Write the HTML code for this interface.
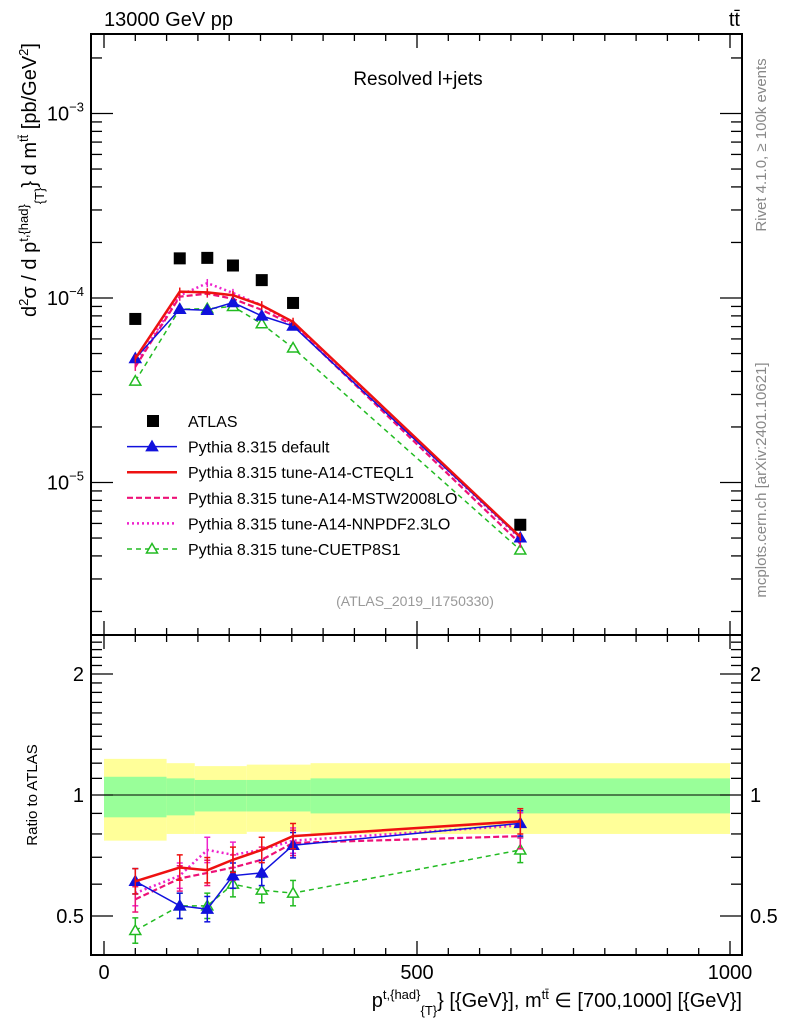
<!DOCTYPE html>
<html><head><meta charset="utf-8"><style>
body{margin:0;background:#fff;}
svg{display:block;font-family:"Liberation Sans",sans-serif;}
</style></head><body>
<svg id="c" width="786" height="1024" xmlns="http://www.w3.org/2000/svg">
<g id="bands"></g>
<g id="axes"></g>
<g id="series"></g>
<text x="104" y="26" font-size="20">13000 GeV pp</text>
<text x="740" y="26" font-size="20" text-anchor="end">tt̄</text>
<text x="418" y="85" font-size="19" text-anchor="middle">Resolved l+jets</text>
<text x="415" y="606" font-size="14" fill="#999" text-anchor="middle">(ATLAS_2019_I1750330)</text>
<text transform="translate(766,145) rotate(-90)" font-size="15" fill="#888" text-anchor="middle">Rivet 4.1.0, ≥ 100k events</text>
<text transform="translate(766,480) rotate(-90)" font-size="15" fill="#888" text-anchor="middle">mcplots.cern.ch [arXiv:2401.10621]</text>
<text transform="translate(36,180) rotate(-90)" font-size="20" text-anchor="middle">d<tspan font-size="13" dy="-8">2</tspan><tspan dy="8">σ / d p</tspan><tspan font-size="13" dy="-8">t,{had}</tspan><tspan font-size="13" dy="16">{T}</tspan><tspan dy="-8">} d m</tspan><tspan font-size="13" dy="-8">tt̄</tspan><tspan dy="8"> [pb/GeV</tspan><tspan font-size="13" dy="-8">2</tspan><tspan dy="8">]</tspan></text>
<text transform="translate(37,795) rotate(-90)" font-size="15" text-anchor="middle">Ratio to ATLAS</text>
<text x="742" y="1007" font-size="20" text-anchor="end">p<tspan font-size="13" dy="-8">t,{had}</tspan><tspan font-size="13" dy="16">{T}</tspan><tspan dy="-8">} [{GeV}], m</tspan><tspan font-size="13" dy="-8">tt̄</tspan><tspan dy="8"> ∈ [700,1000] [{GeV}]</tspan></text>
<g id="legend"></g>
</svg>
<script>
const xs=[50,121,165,206,252,302,665];
const atlas=[7.7e-5,1.64e-4,1.65e-4,1.5e-4,1.25e-4,9.4e-5,5.9e-6];
const rDefault=[0.61,0.53,0.52,0.63,0.64,0.75,0.85];
const rA14CTEQ=[0.61,0.66,0.65,0.69,0.73,0.79,0.86];
const rA14MSTW=[0.55,0.62,0.64,0.66,0.69,0.76,0.79];
const rA14NNPDF=[0.57,0.63,0.73,0.71,0.73,0.77,0.84];
const rCUETP8S1=[0.46,0.53,0.53,0.60,0.58,0.57,0.73];
const binEdges=[0,100,145,228,330,1000];
const yelUp=[1.23,1.20,1.18,1.19,1.20];
const yelDn=[0.77,0.80,0.80,0.81,0.80];
const grnUp=[1.11,1.10,1.09,1.09,1.10];
const grnDn=[0.88,0.89,0.91,0.91,0.90];
const xTicks=[0,500,1000];
const yTickExp=[-5,-4,-3];
const rTicks=[0.5,1,2];

const NS="http://www.w3.org/2000/svg";
const X0=91,X1=742,Y0=34,YM=635,Y1=955;
const fx=v=>104+(v)*0.626;
const fy=v=>298-(Math.log10(v)+4)*184.5;
const fr=v=>795-Math.log2(v)*121;
function mk(tag,attrs,parent){const e=document.createElementNS(NS,tag);for(const k in attrs)e.setAttribute(k,attrs[k]);parent.appendChild(e);return e;}
const axes=document.getElementById('axes'),bands=document.getElementById('bands'),ser=document.getElementById('series'),leg=document.getElementById('legend');

for(let i=0;i<binEdges.length-1;i++){
 const a=fx(binEdges[i]),b=fx(binEdges[i+1]);
 let r=mk('rect',{x:a,y:fr(yelUp[i]),width:b-a,height:fr(yelDn[i])-fr(yelUp[i]),fill:'#ffff99'},bands);
 
 
 r=mk('rect',{x:a,y:fr(grnUp[i]),width:b-a,height:fr(grnDn[i])-fr(grnUp[i]),fill:'#99ff99'},bands);
 
 
}
mk('line',{x1:fx(0),x2:fx(1000),y1:fr(1),y2:fr(1),stroke:'#000','stroke-width':1},bands);

let f=mk('rect',{x:X0,y:Y0,width:X1-X0,height:YM-Y0,fill:'none',stroke:'#000','stroke-width':2},axes);


f=mk('rect',{x:X0,y:YM,width:X1-X0,height:Y1-YM,fill:'none',stroke:'#000','stroke-width':2},axes);


for(let v=0;v<=1000;v+=50){
 const x=fx(v),L=(v%500==0)?14:7;
 for(const [yb,d] of [[Y0,1],[YM,-1],[YM,1],[Y1,-1]]) mk('line',{x1:x,x2:x,y1:yb,y2:yb+d*L,stroke:'#000','stroke-width':1.3},axes);
}
xTicks.forEach(v=>{const t=mk('text',{x:fx(v),y:979,'font-size':20,'text-anchor':'middle'},axes);t.textContent=v;
 
 });
for(let e=-6;e<=-2;e++){for(let m=1;m<10;m++){const v=m*Math.pow(10,e);const y=fy(v);if(y<Y0||y>YM)continue;const L=m==1?22:11;
 mk('line',{x1:X0,x2:X0+L,y1:y,y2:y,stroke:'#000','stroke-width':1.3},axes);mk('line',{x1:X1,x2:X1-L,y1:y,y2:y,stroke:'#000','stroke-width':1.3},axes);}}
yTickExp.forEach(e=>{const t=mk('text',{x:84,y:fy(Math.pow(10,e))+7,'font-size':20,'text-anchor':'end'},axes);
 t.innerHTML='10<tspan font-size="13" dy="-9">'+(e<0?'−'+(-e):e)+'</tspan>';
 
 });
for(let v=0.4;v<=2.5;v+=0.1){const y=fr(v);if(y<YM||y>Y1)continue;const major=[0.5,1,2].some(t=>Math.abs(t-v)<1e-6);const L=major?22:11;
 mk('line',{x1:X0,x2:X0+L,y1:y,y2:y,stroke:'#000','stroke-width':1.3},axes);mk('line',{x1:X1,x2:X1-L,y1:y,y2:y,stroke:'#000','stroke-width':1.3},axes);}
rTicks.forEach(v=>{let t=mk('text',{x:84,y:fr(v)+7,'font-size':20,'text-anchor':'end'},axes);t.textContent=v;
 
 
 t=mk('text',{x:750,y:fr(v)+7,'font-size':20},axes);t.textContent=v;
 
 });

atlas.forEach((v,i)=>{const r=mk('rect',{x:fx(xs[i])-6,y:fy(v)-6,width:12,height:12,fill:'#000'},ser);
 
 });

const specs=[
 {r:rCUETP8S1,c:'#22bb22',w:1.5,d:'5,4',m:'open',n:'cuetp8s1'},
 {r:rA14NNPDF,c:'#ee22cc',w:2.5,d:'2,3',m:null,n:'a14-nnpdf'},
 {r:rA14MSTW,c:'#ee1177',w:2.2,d:'6,3',m:null,n:'a14-mstw'},
 {r:rDefault,c:'#1111dd',w:1.5,d:null,m:'fill',n:'default'},
 {r:rA14CTEQ,c:'#ee1111',w:2.5,d:null,m:null,n:'a14-cteql1'}];
function tri(g,x,y,s,col){mk('path',{d:`M${x},${y-5.5}L${x+5.5},${y+4}L${x-5.5},${y+4}Z`,fill:s=='fill'?col:'#fff',stroke:col,'stroke-width':1.5},g);}
specs.forEach(s=>{
 const g=mk('g',{},ser);
 
 
 const main=s.r.map((r,i)=>[fx(xs[i]),fy(r*atlas[i])]);
 const rat=s.r.map((r,i)=>[fx(xs[i]),fr(r)]);
 for(const pts of [main,rat]){
  const attrs={points:pts.map(p=>p.join(',')).join(' '),fill:'none',stroke:s.c,'stroke-width':s.w};
  if(s.d)attrs['stroke-dasharray']=s.d;
  mk('polyline',attrs,g);
 }
 s.r.forEach((r,i)=>{
  const x=fx(xs[i]);
  const ym=fy(r*atlas[i]),e1=fy(r*atlas[i]*0.95)-ym;
  mk('line',{x1:x,x2:x,y1:ym-e1,y2:ym+e1,stroke:s.c,'stroke-width':1.5},g);
  const yr=fr(r),e2=fr(r*0.93)-yr;
  mk('line',{x1:x,x2:x,y1:yr-e2,y2:yr+e2,stroke:s.c,'stroke-width':1.5},g);
  mk('line',{x1:x-3,x2:x+3,y1:yr-e2,y2:yr-e2,stroke:s.c,'stroke-width':1.5},g);
  mk('line',{x1:x-3,x2:x+3,y1:yr+e2,y2:yr+e2,stroke:s.c,'stroke-width':1.5},g);
  if(s.m){tri(g,x,ym,s.m,s.c);tri(g,x,yr,s.m,s.c);}
 });
});

const legItems=[
 {t:'ATLAS',type:'sq'},
 {t:'Pythia 8.315 default',c:'#1111dd',w:1.5,d:null,m:'fill'},
 {t:'Pythia 8.315 tune-A14-CTEQL1',c:'#ee1111',w:2.5,d:null},
 {t:'Pythia 8.315 tune-A14-MSTW2008LO',c:'#ee1177',w:2.2,d:'6,3'},
 {t:'Pythia 8.315 tune-A14-NNPDF2.3LO',c:'#ee22cc',w:2.5,d:'2,3'},
 {t:'Pythia 8.315 tune-CUETP8S1',c:'#22bb22',w:1.5,d:'5,4',m:'open'}];
legItems.forEach((it,i)=>{
 const y=421+i*25.6;
 const g=mk('g',{},leg);
 
 
 if(it.type=='sq'){mk('rect',{x:147,y:y-6,width:12,height:12,fill:'#000'},g);}
 else{const a={x1:127,x2:177,y1:y,y2:y,stroke:it.c,'stroke-width':it.w};if(it.d)a['stroke-dasharray']=it.d;mk('line',a,g);
  if(it.m)tri(g,152,y,it.m,it.c);}
 const t=mk('text',{x:188,y:y+6,'font-size':16},g);t.textContent=it.t;
});
</script>
</body></html>
